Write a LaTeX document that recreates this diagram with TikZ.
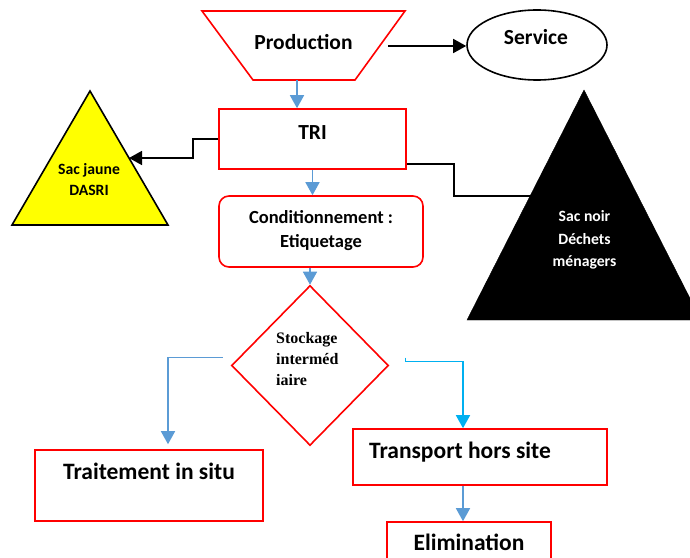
\documentclass[tikz,border=0pt]{standalone}
\usepackage{fontspec}
\setmainfont{Carlito}
\newfontfamily\timesfont{Liberation Serif}
\usetikzlibrary{arrows.meta,shapes.geometric}
\definecolor{frred}{RGB}{255,0,0}
\definecolor{flowblue}{RGB}{91,155,213}
\definecolor{flowcyan}{RGB}{0,176,240}
\definecolor{sacyellow}{RGB}{255,255,0}
\tikzset{>={Triangle[length=13bp,width=14bp]}}
\tikzset{
  redbox/.style={draw=frred, line width=1.6bp, inner sep=0pt},
  bigtxt/.style={font=\bfseries\fontsize{21.5bp}{26bp}\selectfont, inner sep=0pt, anchor=base},
  hugetxt/.style={font=\bfseries\fontsize{23.5bp}{28bp}\selectfont, inner sep=0pt, anchor=base},
  midtxt/.style={font=\bfseries\fontsize{18.5bp}{22bp}\selectfont, inner sep=0pt, anchor=base},
  sactxt/.style={font=\bfseries\fontsize{15.7bp}{19bp}\selectfont, inner sep=0pt, anchor=base},
  stocktxt/.style={font=\timesfont\bfseries\fontsize{16bp}{19bp}\selectfont, inner sep=0pt, anchor=base west},
  blueline/.style={draw=flowblue, line width=1.6bp},
  cyanline/.style={draw=flowcyan, line width=1.6bp},
  blackline/.style={draw=black, line width=1.6bp}
}

\begin{document}
\begin{tikzpicture}[x=1bp, y=-1bp]
    \useasboundingbox (0,0) rectangle (690,558);
    \begin{scope}
    \clip (0,0) rectangle (690,558);
    % formes
    \draw[redbox] (202,11) -- (405,11) -- (355,80) -- (253,80) -- cycle;
    \coordinate (prodbase) at (297,80);
    \coordinate (prodright) at (388,46);
    \node[ellipse, draw, line width=1.6bp, minimum width=140bp, minimum height=70bp] (serv) at (537,45) {};
    \node[redbox, minimum width=187bp, minimum height=60bp] (tri) at (312.5,139) {};
    \draw[line width=1.6bp, fill=sacyellow] (90,91) -- (168,225) -- (12,225) -- cycle;
    \coordinate (jaune) at (129,158);
    \draw[fill=black] (584,90) -- (701,320) -- (467,320) -- cycle;
    \coordinate (noir) at (530.5,196);
    \node[redbox, rounded corners=10bp, minimum width=204bp, minimum height=71bp] (cond) at (321,231.5) {};
    \node[diamond, draw=frred, line width=1.6bp, inner sep=0pt, minimum width=157bp, minimum height=160bp] (stock) at (310,365.5) {};
    \node[redbox, minimum width=228bp, minimum height=71bp] (trait) at (149,485.5) {};
    \node[redbox, minimum width=254bp, minimum height=56bp] (trans) at (480,457) {};
    \node[redbox, minimum width=164bp, minimum height=60bp] (elim) at (469,552) {};
    \end{scope}
    % textes
    \node[bigtxt] (prod) at (303.5,49.3) {Production};
    \node[bigtxt] (servtxt) at (536,45) {Service};
    \node[bigtxt] (tritxt) at (312.5,139.3) {TRI};
    \node[sactxt] (jaune1) at (89,174.3) {Sac jaune};
    \node[sactxt] (jaune2) at (89,195.7) {DASRI};
    \node[sactxt, text=white] (noir1) at (584.5,221.7) {Sac noir};
    \node[sactxt, text=white] (noir2) at (584.5,245) {Déchets};
    \node[sactxt, text=white] (noir3) at (584.5,266.7) {ménagers};
    \node[midtxt] (cond1) at (321,224) {Conditionnement :};
    \node[midtxt] (cond2) at (321,248) {Etiquetage};
    \node[stocktxt] (stock1) at (276,343.3) {Stockage};
    \node[stocktxt] (stock2) at (276,364.3) {interméd};
    \node[stocktxt] (stock3) at (276,385) {iaire};
    \node[hugetxt] (traittxt) at (149,479.3) {Traitement in situ};
    \node[hugetxt] (transtxt) at (460,458.3) {Transport hors site};
    \node[hugetxt] (elimtxt) at (469,550) {Elimination};
    % liaisons
    \draw[blackline,->] (prodright) -- (prodright -| serv.west);
    \draw[blueline,->] (prodbase) -- (prodbase |- tri.north);
    \draw[blackline,->] (tri.west) -- ++(-25,0) |- (jaune);
    \draw[blackline] ([yshift=6bp]tri.south east) -- ++(47,0) |- (noir);
    \draw[blueline,->] (tri.south) -- (tri.south |- cond.north);
    \draw[blueline,->] (stock.north |- cond.south) -- (stock.north);
    \draw[blueline,->] ([shift={(-8bp,8bp)}]stock.west) -| ([shift={(19bp,5bp)}]trait.north);
    \draw[cyanline,->] ([shift={(16bp,8bp)}]stock.east) -- ++(0,4) -| ([xshift=-17bp]trans.north);
    \draw[blueline,->] ([xshift=-17bp]trans.south) -- ([xshift=-17bp]trans.south |- elim.north);
\end{tikzpicture}
\end{document}
